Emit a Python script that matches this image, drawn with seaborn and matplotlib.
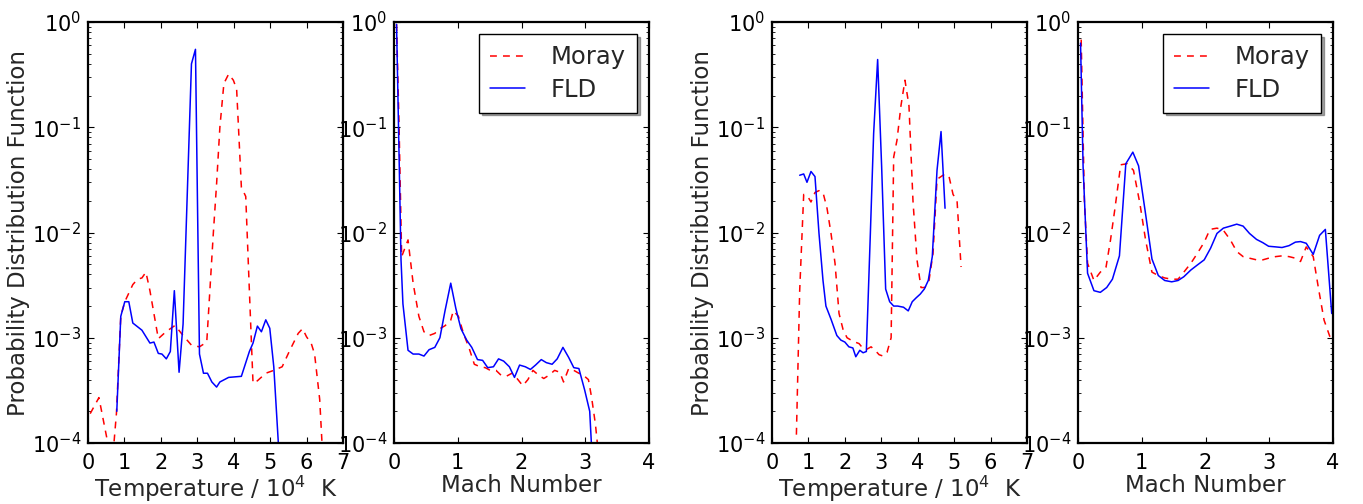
import numpy as np
import pandas as pd
import matplotlib
matplotlib.use("Agg")
import matplotlib.pyplot as plt
import seaborn as sns
from matplotlib.ticker import LogLocator, NullFormatter

# ---------------- data ----------------
# Panel 1: temperature PDF (run A)
t1_fld_x = [0.79, 0.90, 1.01, 1.12, 1.23, 1.48, 1.70, 1.81, 1.93, 2.03, 2.15, 2.26, 2.37, 2.50, 2.61,
            2.84, 2.95, 3.06, 3.17, 3.28, 3.40, 3.53, 3.62, 3.86, 4.21, 4.43, 4.53, 4.65, 4.76, 4.88,
            4.99, 5.10, 5.22, 5.30]
t1_fld_y = [2.0e-4, 1.6e-3, 2.2e-3, 2.2e-3, 1.38e-3, 1.18e-3, 8.9e-4, 9.1e-4, 7.1e-4, 7.0e-4, 6.3e-4,
            7.4e-4, 2.8e-3, 4.7e-4, 1.35e-3, 0.40, 0.55, 7.0e-4, 4.6e-4, 4.6e-4, 3.8e-4, 3.4e-4,
            3.8e-4, 4.2e-4, 4.3e-4, 7.4e-4, 8.9e-4, 1.29e-3, 1.14e-3, 1.48e-3, 1.23e-3, 5.3e-4,
            1.07e-4, 3.0e-5]
t1_moray_x = [0.06, 0.30, 0.52, 0.64, 0.78, 0.90, 1.01, 1.23, 1.36, 1.48, 1.59, 1.70, 1.93, 2.14, 2.39,
              2.61, 2.84, 3.06, 3.26, 3.44, 3.53, 3.62, 3.73, 3.86, 3.99, 4.08, 4.21, 4.33, 4.43,
              4.53, 4.65, 4.88, 5.10, 5.33, 5.54, 5.77, 5.89, 6.00, 6.13, 6.22, 6.36, 6.47]
t1_moray_y = [1.9e-4, 2.7e-4, 1.1e-4, 5.0e-5, 1.9e-4, 1.6e-3, 2.2e-3, 3.2e-3, 3.6e-3, 3.7e-3, 4.2e-3,
              2.8e-3, 9.8e-4, 1.14e-3, 1.31e-3, 1.05e-3, 8.5e-4, 8.2e-4, 9.1e-4, 9.8e-3, 2.9e-2,
              0.10, 0.26, 0.32, 0.28, 0.23, 2.7e-2, 2.2e-2, 2.8e-3, 3.7e-4, 3.9e-4, 4.6e-4, 4.9e-4,
              5.3e-4, 7.6e-4, 1.1e-3, 1.22e-3, 1.02e-3, 8.8e-4, 7.0e-4, 2.6e-4, 5.0e-5]

# Panel 2: Mach number PDF (run A)
m1_fld_x = [0.04, 0.08, 0.11, 0.14, 0.22, 0.30, 0.39, 0.47, 0.55, 0.64, 0.72, 0.80, 0.89, 0.97, 1.05,
            1.14, 1.22, 1.31, 1.39, 1.47, 1.56, 1.64, 1.72, 1.81, 1.89, 1.97, 2.06, 2.14, 2.22, 2.31,
            2.39, 2.48, 2.56, 2.65, 2.74, 2.82, 2.90, 2.99, 3.07, 3.13]
m1_fld_y = [0.95, 5.2e-2, 5.5e-3, 2.1e-3, 7.6e-4, 7.0e-4, 7.0e-4, 6.7e-4, 7.7e-4, 8.1e-4, 1.0e-3,
            1.8e-3, 3.3e-3, 1.9e-3, 1.22e-3, 9.5e-4, 8.1e-4, 6.2e-4, 6.1e-4, 5.2e-4, 5.3e-4, 6.3e-4,
            6.0e-4, 5.3e-4, 4.2e-4, 5.5e-4, 5.3e-4, 5.0e-4, 5.5e-4, 6.2e-4, 5.8e-4, 5.6e-4, 6.3e-4,
            8.1e-4, 6.5e-4, 5.2e-4, 5.1e-4, 3.2e-4, 2.0e-4, 4.0e-5]
m1_moray_x = [0.04, 0.08, 0.12, 0.22, 0.30, 0.39, 0.47, 0.55, 0.64, 0.72, 0.80, 0.89, 0.93, 1.01, 1.09,
              1.18, 1.26, 1.35, 1.43, 1.51, 1.60, 1.68, 1.76, 1.85, 1.93, 2.02, 2.10, 2.18, 2.27,
              2.35, 2.43, 2.52, 2.60, 2.66, 2.74, 2.82, 2.90, 2.99, 3.05, 3.10, 3.16, 3.24]
m1_moray_y = [0.95, 0.10, 5.9e-3, 8.5e-3, 3.3e-3, 1.6e-3, 1.14e-3, 1.05e-3, 1.1e-3, 1.22e-3, 1.3e-3,
              1.47e-3, 1.8e-3, 1.6e-3, 1.1e-3, 7.9e-4, 5.6e-4, 5.3e-4, 5.2e-4, 4.9e-4, 4.9e-4, 4.4e-4,
              4.3e-4, 4.6e-4, 4.1e-4, 3.5e-4, 4.0e-4, 4.9e-4, 4.4e-4, 4.1e-4, 4.4e-4, 4.9e-4, 4.7e-4,
              3.8e-4, 5.1e-4, 4.9e-4, 4.6e-4, 4.3e-4, 4.0e-4, 2.7e-4, 1.5e-4, 5.0e-5]

# Panel 3: temperature PDF (run B)
t2_fld_x = [0.76, 0.87, 0.96, 1.07, 1.18, 1.29, 1.40, 1.48, 1.62, 1.78, 1.89, 2.00, 2.11, 2.22, 2.30,
            2.41, 2.50, 2.59, 2.70, 2.79, 2.90, 3.01, 3.12, 3.23, 3.34, 3.45, 3.61, 3.74, 3.85, 3.96,
            4.07, 4.18, 4.29, 4.40, 4.53, 4.64, 4.75]
t2_fld_y = [3.5e-2, 3.6e-2, 3.0e-2, 3.8e-2, 3.4e-2, 9.8e-3, 3.5e-3, 2.0e-3, 1.5e-3, 1.05e-3, 9.5e-4,
            9.1e-4, 8.2e-4, 8.0e-4, 6.6e-4, 7.6e-4, 7.2e-4, 7.4e-4, 9.8e-3, 8.7e-2, 0.44, 4.2e-2,
            2.9e-3, 2.2e-3, 2.0e-3, 2.0e-3, 1.95e-3, 1.8e-3, 2.2e-3, 2.4e-3, 2.6e-3, 2.9e-3, 3.5e-3,
            5.9e-3, 3.9e-2, 9.1e-2, 1.7e-2]
t2_moray_x = [0.67, 0.76, 0.87, 0.98, 1.07, 1.18, 1.29, 1.40, 1.51, 1.62, 1.73, 1.84, 1.95, 2.06, 2.17,
              2.28, 2.39, 2.50, 2.61, 2.72, 2.83, 2.94, 3.05, 3.16, 3.27, 3.34, 3.43, 3.54, 3.65,
              3.76, 3.87, 3.98, 4.09, 4.20, 4.31, 4.42, 4.53, 4.64, 4.75, 4.86, 4.97, 5.08, 5.19]
t2_moray_y = [1.2e-4, 2.8e-3, 2.3e-2, 2.2e-2, 1.95e-2, 2.4e-2, 2.5e-2, 2.4e-2, 1.7e-2, 9.8e-3, 5.1e-3,
              1.7e-3, 1.2e-3, 1.0e-3, 9.5e-4, 9.1e-4, 8.8e-4, 7.9e-4, 7.8e-4, 8.2e-4, 7.6e-4, 6.9e-4,
              6.7e-4, 7.3e-4, 1.0e-3, 5.2e-2, 7.5e-2, 0.16, 0.28, 0.16, 2.0e-2, 5.5e-3, 3.0e-3,
              3.0e-3, 3.5e-3, 6.3e-3, 3.2e-2, 3.4e-2, 3.6e-2, 3.4e-2, 2.3e-2, 2.0e-2, 4.7e-3]

# Panel 4: Mach number PDF (run B)
m2_fld_x = [0.04, 0.08, 0.15, 0.25, 0.35, 0.45, 0.54, 0.65, 0.75, 0.86, 0.95, 1.06, 1.16, 1.26, 1.36,
            1.47, 1.57, 1.66, 1.77, 1.87, 1.98, 2.08, 2.18, 2.28, 2.39, 2.49, 2.59, 2.69, 2.80, 2.90,
            2.99, 3.10, 3.20, 3.31, 3.41, 3.49, 3.58, 3.69, 3.79, 3.88, 3.98]
m2_fld_y = [0.63, 4.2e-2, 4.1e-3, 2.8e-3, 2.7e-3, 3.0e-3, 3.6e-3, 6.0e-3, 4.5e-2, 5.8e-2, 4.3e-2,
            1.5e-2, 5.6e-3, 3.9e-3, 3.5e-3, 3.4e-3, 3.5e-3, 3.8e-3, 4.4e-3, 4.9e-3, 5.5e-3, 7.1e-3,
            9.8e-3, 1.1e-2, 1.15e-2, 1.2e-2, 1.15e-2, 9.8e-3, 8.6e-3, 8.0e-3, 7.4e-3, 7.3e-3,
            7.2e-3, 7.5e-3, 8.1e-3, 8.2e-3, 7.9e-3, 6.2e-3, 9.4e-3, 1.07e-2, 1.7e-3]
m2_moray_x = [0.05, 0.10, 0.15, 0.25, 0.35, 0.44, 0.51, 0.58, 0.67, 0.77, 0.87, 0.97, 1.06, 1.16, 1.26,
              1.36, 1.47, 1.57, 1.66, 1.77, 1.87, 1.98, 2.07, 2.18, 2.28, 2.39, 2.49, 2.59, 2.69,
              2.80, 2.90, 2.99, 3.10, 3.20, 3.31, 3.41, 3.49, 3.58, 3.69, 3.77, 3.86, 3.97]
m2_moray_y = [0.68, 2.0e-2, 5.1e-3, 3.5e-3, 4.2e-3, 4.7e-3, 8.5e-3, 1.7e-2, 4.4e-2, 4.5e-2, 3.9e-2,
              1.9e-2, 8.5e-3, 4.2e-3, 3.9e-3, 3.7e-3, 3.6e-3, 3.6e-3, 4.2e-3, 5.1e-3, 6.3e-3, 8.1e-3,
              1.07e-2, 1.1e-2, 1.05e-2, 8.5e-3, 6.6e-3, 5.9e-3, 5.7e-3, 5.5e-3, 5.5e-3, 5.7e-3,
              5.9e-3, 6.0e-3, 5.9e-3, 5.7e-3, 5.3e-3, 7.3e-3, 5.9e-3, 3.0e-3, 1.47e-3, 9.5e-4]

series_labels = ["Moray", "FLD"]
temp_ticks = [0, 1, 2, 3, 4, 5, 6, 7]
mach_ticks = [0, 1, 2, 3, 4]
temp_label = "Temperature / 10$^4$  K"
mach_label = "Mach Number"
y_label = "Probability Distribution Function"

# ---------------- style ----------------
sns.set_style("ticks")
plt.rcParams.update({
    "font.family": ["DejaVu Sans"],
    "mathtext.fontset": "dejavusans",
    "xtick.direction": "in",
    "ytick.direction": "in",
    "xtick.top": True,
    "ytick.right": True,
    "xtick.major.size": 4,
    "ytick.major.size": 4,
    "ytick.minor.size": 2,
    "xtick.major.width": 0.8,
    "ytick.major.width": 0.8,
    "axes.linewidth": 1.6,
    "axes.edgecolor": "black",
    "xtick.color": "black",
    "ytick.color": "black",
    "xtick.labelsize": 15,
    "ytick.labelsize": 15,
    "axes.labelsize": 16.5,
    "xtick.major.pad": 7,
    "ytick.major.pad": 5,
})

W, H = 1363, 504
fig = plt.figure(figsize=(W / 100, H / 100), dpi=100)
lefts = [88, 394, 772, 1078]
aw, ab, ah = 255, 504 - 443, 421
axes = [fig.add_axes([l / W, ab / H, aw / W, ah / H]) for l in lefts]

panels = [
    (t1_moray_x, t1_moray_y, t1_fld_x, t1_fld_y, temp_ticks, temp_label, True, False),
    (m1_moray_x, m1_moray_y, m1_fld_x, m1_fld_y, mach_ticks, mach_label, False, True),
    (t2_moray_x, t2_moray_y, t2_fld_x, t2_fld_y, temp_ticks, temp_label, True, False),
    (m2_moray_x, m2_moray_y, m2_fld_x, m2_fld_y, mach_ticks, mach_label, False, True),
]

for ax, (mx, my, fx, fy, ticks, xl, ylab, leg) in zip(axes, panels):
    dm = pd.DataFrame({"x": mx, "y": my})
    df = pd.DataFrame({"x": fx, "y": fy})
    sns.lineplot(data=dm, x="x", y="y", ax=ax, color="#ff0000", linewidth=1.1,
                 linestyle=(0, (4.5, 4.0)), label=series_labels[0], sort=False, legend=leg)
    sns.lineplot(data=df, x="x", y="y", ax=ax, color="#0000ff", linewidth=1.1,
                 label=series_labels[1], sort=False, legend=leg)
    ax.set_yscale("log")
    ax.set_ylim(1e-4, 1)
    ax.set_xlim(ticks[0], ticks[-1])
    ax.set_xticks(ticks)
    ax.yaxis.set_major_locator(LogLocator(base=10, numticks=10))
    ax.yaxis.set_minor_locator(LogLocator(base=10, subs=np.arange(2, 10), numticks=10))
    ax.yaxis.set_minor_formatter(NullFormatter())
    ax.set_xlabel(xl, labelpad=1)
    ax.set_ylabel(y_label if ylab else "", labelpad=1)
    for s in ax.spines.values():
        s.set_linewidth(1.6)
    if leg:
        lg = ax.legend(loc="upper right", fontsize=17.5, frameon=True, fancybox=False,
                       shadow=True, handlelength=1.45, borderpad=0.45, labelspacing=0.35,
                       handletextpad=1.05, borderaxespad=0.5)
        lg.get_frame().set_edgecolor("black")
        lg.get_frame().set_linewidth(1.0)
    else:
        if ax.get_legend() is not None:
            ax.get_legend().remove()

fig.savefig("out.png", dpi=100)
